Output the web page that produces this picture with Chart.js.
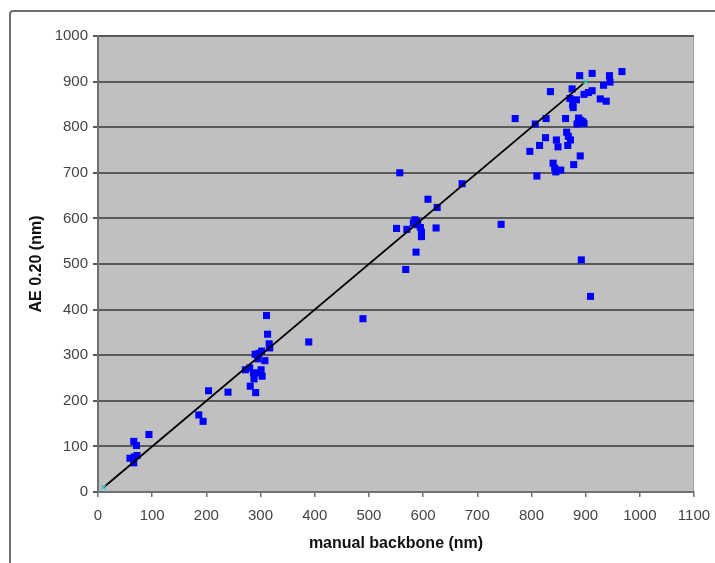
<!DOCTYPE html>
<html>
<head>
<meta charset="utf-8">
<script src="https://cdn.jsdelivr.net/npm/chart.js@4"></script>
<style>
  html, body { margin: 0; padding: 0; background: #fff; width: 715px; height: 563px; overflow: hidden; }
  #frame { position: absolute; left: 9px; top: 10px; width: 1000px; height: 1000px; border: 2px solid #707070; border-radius: 4px; }
  #wrap { position: absolute; left: 0; top: 0; width: 715px; height: 563px; }
</style>
</head>
<body>
<div id="frame"></div>
<div id="wrap"><canvas id="c" width="715" height="563"></canvas></div>
<script>
// manual backbone (nm) values of each measured point
const backboneNm = [
  889, 912, 944, 967, 945, 933, 835, 875, 912, 905, 897, 871, 883, 876, 877, 927, 938,
  770, 807, 827, 863, 887, 895, 884, 897, 891, 826, 846, 865, 868, 872, 815, 849, 867,
  797, 890, 878, 840, 843, 845, 854, 810,
  744, 892, 909,
  557, 672, 609, 626, 551, 570, 585, 582, 590, 595, 597, 597, 624, 587, 568, 588,
  311, 313, 316, 317, 290, 297, 302, 295, 308, 272, 280, 287, 295, 301, 303, 288, 281, 291,
  389, 489,
  204, 240, 186, 194, 94, 66, 71, 59, 67, 72, 66
];
// AE 0.20 (nm) values of each measured point
const ae020Nm = [
  913, 918, 913, 922, 899, 892, 878, 884, 880, 876, 872, 863, 860, 850, 843, 862, 857,
  819, 807, 819, 819, 820, 812, 807, 808, 815, 777, 772, 789, 780, 772, 760, 757, 760,
  747, 737, 718, 721, 710, 702, 706, 693,
  587, 509, 429,
  700, 676, 642, 624, 578, 576, 597, 590, 586, 580, 570, 560, 579, 526, 488, 593,
  387, 346, 325, 316, 302, 304, 309, 292, 288, 268, 272, 261, 261, 268, 254, 248, 232, 218,
  329, 380,
  222, 219, 169, 155, 126, 111, 102, 74, 77, 80, 64
];
// reference line endpoints
const fitX = [10, 900];
const fitY = [10, 900];
// axis ranges / ticks
const xTickMin = 0, xTickMax = 1100, xTickStep = 100;
const yTickMin = 0, yTickMax = 1000, yTickStep = 100;

const points = backboneNm.map((x, i) => ({ x: x, y: ae020Nm[i] }));
const fitLine = fitX.map((x, i) => ({ x: x, y: fitY[i] }));

const plotBg = {
  id: 'plotBg',
  beforeDraw(chart) {
    const { ctx, chartArea: a } = chart;
    ctx.save();
    ctx.fillStyle = '#c0c0c0';
    ctx.fillRect(a.left, a.top, a.right - a.left, a.bottom - a.top);
    ctx.strokeStyle = '#a0a0a0';
    ctx.lineWidth = 1;
    ctx.beginPath();
    ctx.moveTo(a.right - 0.5, a.top);
    ctx.lineTo(a.right - 0.5, a.bottom);
    ctx.stroke();
    ctx.restore();
  }
};

const plainTick = (v) => String(v);

new Chart(document.getElementById('c'), {
  type: 'scatter',
  data: {
    datasets: [
      {
        label: 'fit',
        data: fitLine,
        showLine: true,
        borderColor: '#000000',
        borderWidth: 1.8,
        pointStyle: 'crossRot',
        pointRadius: 3.5,
        pointBorderColor: '#30d0d0',
        pointBorderWidth: 1.2,
        pointBackgroundColor: '#30d0d0',
        order: 0
      },
      {
        label: 'AE 0.20',
        data: points,
        pointStyle: 'rect',
        pointRadius: 5,
        pointBackgroundColor: '#0000ff',
        pointBorderColor: '#0000ff',
        pointBorderWidth: 0,
        order: 1
      }
    ]
  },
  options: {
    responsive: false,
    animation: false,
    devicePixelRatio: 1,
    layout: { padding: { left: 0, right: 21, top: 36, bottom: 0 } },
    plugins: { legend: { display: false }, tooltip: { enabled: false } },
    scales: {
      x: {
        type: 'linear',
        min: xTickMin, max: xTickMax,
        ticks: { stepSize: xTickStep, color: '#444', padding: 10, callback: plainTick,
                 font: { family: 'Liberation Sans', size: 15 } },
        grid: { drawOnChartArea: false, drawTicks: true, tickLength: 5, color: '#707070', lineWidth: 1.5 },
        border: { display: true, color: '#707070', width: 2 },
        title: { display: true, text: 'manual backbone (nm)', color: '#111', padding: { top: 4, bottom: 10 },
                 font: { family: 'Liberation Sans', size: 16, weight: 'bold' } },
        afterFit(scale) { scale.height = 71; scale.paddingRight = 0; scale.paddingLeft = 0; }
      },
      y: {
        type: 'linear',
        min: yTickMin, max: yTickMax,
        ticks: { stepSize: yTickStep, color: '#444', padding: 5, callback: plainTick,
                 font: { family: 'Liberation Sans', size: 15 } },
        grid: { drawOnChartArea: true, drawTicks: true, tickLength: 5, color: '#5a5a5a', lineWidth: 2 },
        border: { display: true, color: '#707070', width: 2 },
        title: { display: true, text: 'AE 0.20 (nm)', color: '#111', padding: { top: 27, bottom: 4 },
                 font: { family: 'Liberation Sans', size: 16, weight: 'bold' } },
        afterFit(scale) { scale.width = 98; }
      }
    }
  },
  plugins: [plotBg]
});
</script>
</body>
</html>
